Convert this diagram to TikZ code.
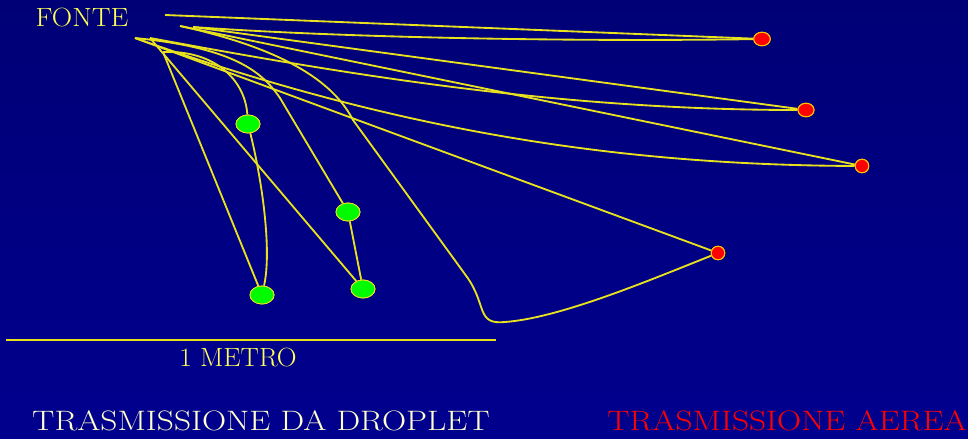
\documentclass[tikz,border=0pt]{standalone}
\usepackage{tikz}
\usepackage{xcolor}
\usepackage{graphicx}
\usetikzlibrary{shapes.geometric}

\definecolor{bgtop}{RGB}{0,0,118}
\definecolor{bgbot}{RGB}{0,0,142}
\definecolor{trailyel}{RGB}{232,226,30}
\definecolor{dropgreen}{RGB}{0,250,0}
\definecolor{airred}{RGB}{255,0,0}
\definecolor{rimorange}{RGB}{255,190,0}
\definecolor{labyellow}{RGB}{255,255,90}
\definecolor{labpale}{RGB}{255,255,205}

\begin{document}
\begin{tikzpicture}[x=0.02cm,y=-0.02cm,
	trail/.style={trailyel, line width=1.05pt},
	droplet/.style={ellipse, fill=dropgreen, draw=trailyel, line width=0.5pt, minimum width=0.48cm, minimum height=0.36cm, inner sep=0pt},
	nucleus/.style={circle, fill=airred, draw=rimorange, line width=0.6pt, minimum size=0.27cm, inner sep=0pt},
	caption/.style={font=\fontsize{15}{18}\selectfont, inner sep=0pt}]
	\fill[top color=bgtop, bottom color=bgbot] (0,0) rectangle (968,439);
	\useasboundingbox (0,0) rectangle (968,439);

	% sorgente e punti di partenza
	\node[caption, text=labyellow] (fonte) at (82,18) {\scalebox{1.07}[1]{FONTE}};
	\coordinate (s1) at (165,15);
	\coordinate (s2) at (180,26);
	\coordinate (s3) at (193,27);
	\coordinate (s4) at (135,38);
	\coordinate (s5) at (150,38);
	\coordinate (s6) at (163,52);

	% goccioline e nuclei
	\node[droplet] (g1) at (248,124) {};
	\node[droplet] (g2) at (348,212) {};
	\node[droplet] (g3) at (262,295) {};
	\node[droplet] (g4) at (363,289) {};
	\node[nucleus, ellipse, minimum width=0.33cm] (r1) at (762,39) {};
	\node[nucleus, ellipse, minimum width=0.32cm] (r2) at (806,110) {};
	\node[nucleus] (r3) at (862,166) {};
	\node[nucleus] (r4) at (718,253) {};

	% traiettorie aeree
	\draw[trail] (s1) -- (r1);
	\draw[trail] (s3) .. controls (330,37) and (560,42) .. (r1);
	\draw[trail] (s3) -- (r2);
	\draw[trail] (s5) .. controls (350,75) and (560,110) .. (r2);
	\draw[trail] (s2) -- (r3);
	\draw[trail] (s4) .. controls (380,125) and (600,165) .. (r3);
	\draw[trail] (s4) -- (r4);
	\draw[trail] (s2) .. controls (290,50) and (335,85) .. (353,120) -- (467,277) .. controls (487,305) and (476,325) .. (505,322) .. controls (560,318) and (650,280) .. (r4);

	% traiettorie droplet
	\draw[trail] (s6) .. controls (215,50) and (245,80) .. (g1);
	\draw[trail] (g1) .. controls (262,180) and (272,250) .. (g3);
	\draw[trail] (s6) -- (g3);
	\draw[trail] (s5) -- (g4);
	\draw[trail] (s4) .. controls (235,48) and (262,72) .. (280,98) -- (g2);
	\draw[trail] (g2) -- (g4);

	% riempimenti sopra le linee
	\foreach \d in {g1,g2,g3,g4} \node[droplet] at (\d) {};
	\node[nucleus, ellipse, minimum width=0.33cm] at (r1) {};
	\node[nucleus, ellipse, minimum width=0.32cm] at (r2) {};
	\foreach \d in {r3,r4} \node[nucleus] at (\d) {};

	% scala
	\coordinate (barl) at (6,340);
	\coordinate (barr) at (496,340);
	\draw[trail] (barl) -- (barr);
	\node[caption, text=labyellow] (metro) at (238,357) {\scalebox{1.04}[1]{1 METRO}};

	\node[caption, font=\fontsize{16}{19}\selectfont, text=labpale] (droplet) at (261,421) {\scalebox{1.19}[1]{TRASMISSIONE DA DROPLET}};
	\node[caption, font=\fontsize{16}{19}\selectfont, text=airred] (aerea) at (787,421) {\scalebox{1.19}[1]{TRASMISSIONE AEREA}};
\end{tikzpicture}
\end{document}
